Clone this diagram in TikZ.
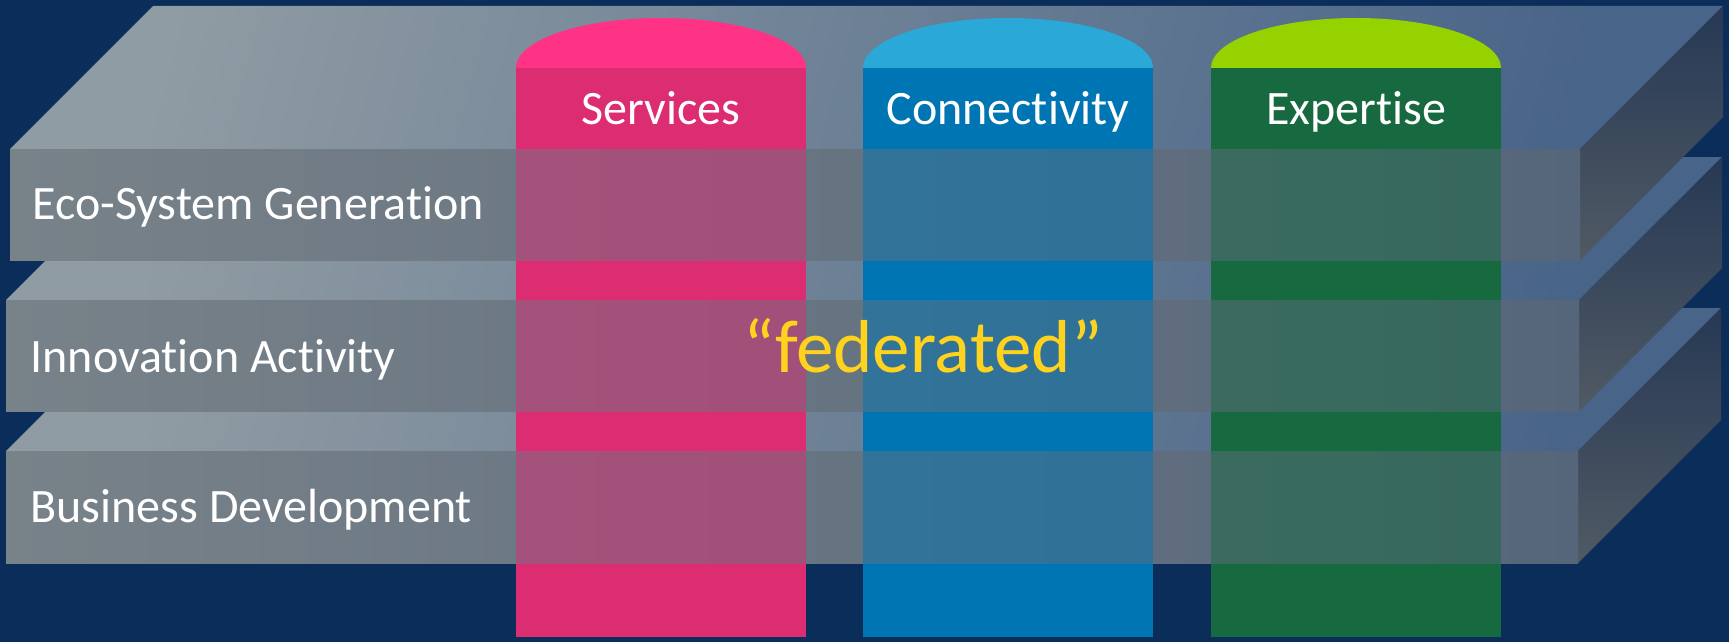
\documentclass[tikz,border=0pt]{standalone}
\usepackage{fontspec}
\setmainfont{Carlito}[Ligatures=NoCommon]
\definecolor{navy}{RGB}{11,45,90}
\definecolor{topleft}{RGB}{144,156,163}
\definecolor{topright}{RGB}{72,100,136}
\definecolor{frontleft}{RGB}{120,130,137}
\definecolor{frontright}{RGB}{86,102,122}
\definecolor{sidetop}{RGB}{38,56,84}
\definecolor{sidebot}{RGB}{80,90,100}
\definecolor{servpink}{RGB}{220,44,114}
\definecolor{servdome}{RGB}{255,51,133}
\definecolor{connblue}{RGB}{0,117,179}
\definecolor{conndome}{RGB}{42,168,216}
\definecolor{expgreen}{RGB}{23,106,64}
\definecolor{expdome}{RGB}{150,210,0}
\definecolor{fedyellow}{RGB}{255,210,30}

\begin{document}
\begin{tikzpicture}[x=1pt,y=-1pt]
\tikzstyle{topface}=[left color=topleft, right color=topright, shading angle=75]
\tikzstyle{sideface}=[top color=sidetop, bottom color=sidebot]
\tikzstyle{frontface}=[left color=frontleft, right color=frontright]
\tikzstyle{layer}=[anchor=base west, text=white, font=\fontsize{48}{52}\selectfont]
\tikzstyle{pillar}=[anchor=base, text=white, font=\fontsize{48}{52}\selectfont]
\useasboundingbox (0,0) rectangle (1729,642);
\fill[navy] (0,0) rectangle (1729,642);
  \shade[topface] (6,451) -- (1578,451) -- (1721,308) -- (149,308) -- cycle;
  \shade[sideface] (1578,451) -- (1721,308) -- (1721,420) -- (1578,563) -- cycle;
  \shade[frontface] (6,451) rectangle (1578,563);
  \shade[topface] (6,300) -- (1579,300) -- (1722,157) -- (149,157) -- cycle;
  \shade[sideface] (1579,300) -- (1722,157) -- (1722,268) -- (1579,411) -- cycle;
  \shade[frontface] (6,300) rectangle (1579,411);
  \shade[topface] (10,149) -- (1580,149) -- (1723,6) -- (153,6) -- cycle;
  \shade[sideface] (1580,149) -- (1723,6) -- (1723,117) -- (1580,260) -- cycle;
  \shade[frontface] (10,149) rectangle (1580,260);
\fill[servdome] (516,68) .. controls (516,40) and (581,18) .. (661,18) .. controls (741,18) and (806,40) .. (806,68) -- cycle;
\fill[servpink] (516,68) rectangle (806,637);
\fill[conndome] (863,68) .. controls (863,40) and (928,18) .. (1008,18) .. controls (1088,18) and (1153,40) .. (1153,68) -- cycle;
\fill[connblue] (863,68) rectangle (1153,637);
\fill[expdome] (1211,68) .. controls (1211,40) and (1276,18) .. (1356,18) .. controls (1436,18) and (1501,40) .. (1501,68) -- cycle;
\fill[expgreen] (1211,68) rectangle (1501,637);
  \shade[frontface, fill opacity=0.5] (6,451) rectangle (1578,563);
  \shade[frontface, fill opacity=0.5] (6,300) rectangle (1579,411);
  \shade[frontface, fill opacity=0.5] (10,149) rectangle (1580,260);
\node[layer] (eco) at (29,219) {Eco-System Generation};
\node[layer] (innov) at (27,372) {Innovation Activity};
\node[layer] (busdev) at (27,522) {Business Development};
\node[pillar] (services) at (661,124) {Services};
\node[pillar] (connect) at (1008,124) {Connectivity};
\node[pillar] (expert) at (1356,124) {Expertise};
\node[anchor=base, text=fedyellow, font=\fontsize{75}{82}\selectfont] (fed) at (923,372) {“federated”};
\end{tikzpicture}
\end{document}
